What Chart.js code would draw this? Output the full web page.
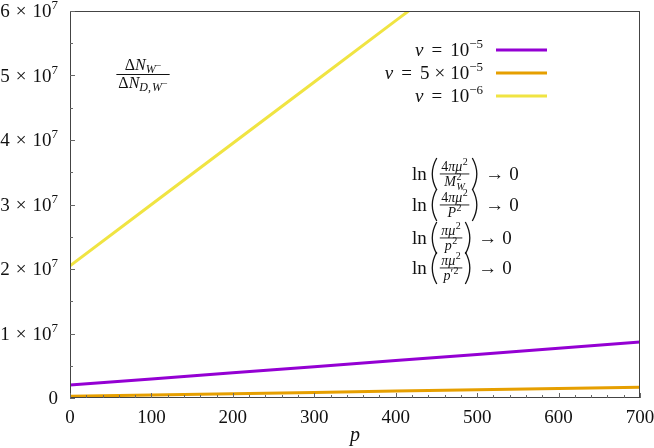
<!DOCTYPE html>
<html>
<head>
<meta charset="utf-8">
<script src="https://cdn.jsdelivr.net/npm/chart.js@4"></script>
<style>
  html, body { margin: 0; background: #fff; }
</style>
</head>
<body>
<canvas id="chart" width="654" height="448"></canvas>
<script>
// values (p from 0 to 700)
const pGrid = [0, 100, 200, 300, 400, 500, 600, 700];
const ratioV1e5 = [2.0e6, 2.95e6, 3.9e6, 4.85e6, 5.8e6, 6.75e6, 7.7e6, 8.7e6];
const ratioV5e5 = [0.27e6, 0.47e6, 0.67e6, 0.87e6, 1.07e6, 1.27e6, 1.47e6, 1.67e6];
const ratioV1e6 = [2.05e7, 3.0e7, 3.95e7, 4.9e7, 5.85e7, 6.8e7];
const yTickMantissa = ['0', '1', '2', '3', '4', '5', '6'];
const yTickExponent = '7';

const colors = ['#9400d3', '#e69f00', '#f0e442'];
const serif = '"Liberation Serif", "DejaVu Serif", serif';
const F = (size, italic) => (italic ? 'italic ' : '') + size + 'px ' + serif;

function toPoints(xs, ys) {
  return ys.map((y, i) => ({ x: xs[i], y: y }));
}

// a run of text pieces: {t, f, dy, gap, stack}
function runWidth(ctx, parts) {
  let w = 0, last = 0;
  parts.forEach(p => {
    ctx.font = p.f;
    const pw = ctx.measureText(p.t).width;
    if (p.stack) { w = w - last + Math.max(last, pw); last = Math.max(last, pw); }
    else { w += (p.gap || 0) + pw; last = pw; }
  });
  return w;
}
function drawRun(ctx, parts, x, y) {
  let cx = x, lastX = x, last = 0;
  parts.forEach(p => {
    ctx.font = p.f;
    const pw = ctx.measureText(p.t).width;
    if (p.stack) {
      ctx.fillText(p.t, lastX, y + (p.dy || 0));
      cx = lastX + Math.max(last, pw);
    } else {
      cx += p.gap || 0;
      ctx.fillText(p.t, cx, y + (p.dy || 0));
      lastX = cx; last = pw; cx += pw;
    }
  });
  return cx - x;
}
function drawFrac(ctx, num, den, x, cy) {
  const wn = runWidth(ctx, num), wd = runWidth(ctx, den);
  const w = Math.max(wn, wd) + 3;
  drawRun(ctx, num, x + (w - wn) / 2, cy - 3);
  drawRun(ctx, den, x + (w - wd) / 2, cy + 12);
  ctx.fillRect(x, cy - 0.5, w, 0.9);
  return w;
}
// thin tall parenthesis occupying [x, x+7]
function paren(ctx, x, cy, open) {
  const h = 16;
  ctx.beginPath();
  if (open) {
    ctx.moveTo(x + 7, cy - h);
    ctx.quadraticCurveTo(x - 2, cy, x + 7, cy + h);
  } else {
    ctx.moveTo(x, cy - h);
    ctx.quadraticCurveTo(x + 9, cy, x, cy + h);
  }
  ctx.stroke();
}

const annotations = {
  id: 'annotations',
  afterDraw(chart) {
    const ctx = chart.ctx;
    const a = chart.chartArea;
    const xs = chart.scales.x, ys = chart.scales.y;
    ctx.save();
    // frame
    ctx.strokeStyle = '#444';
    ctx.lineWidth = 1;
    ctx.strokeRect(a.left + 0.5, a.top + 0.5, a.right - a.left - 1, a.bottom - a.top - 1);
    // inward ticks, majors and minors
    ctx.strokeStyle = '#666';
    ctx.beginPath();
    for (let v = 0; v <= 700; v += 20) {
      const px = Math.round(xs.getPixelForValue(v)) + 0.5;
      const len = v % 100 === 0 ? 5 : 3;
      ctx.moveTo(px, a.bottom); ctx.lineTo(px, a.bottom - len);
    }
    for (let v = 0; v <= 6e7; v += 0.5e7) {
      const py = Math.round(ys.getPixelForValue(v)) + 0.5;
      const len = v % 1e7 === 0 ? 5 : 3;
      ctx.moveTo(a.left, py); ctx.lineTo(a.left + len, py);
    }
    ctx.stroke();

    ctx.fillStyle = '#111';
    ctx.textBaseline = 'alphabetic';
    ctx.textAlign = 'left';

    // y tick labels  m × 10^7
    yTickMantissa.forEach((m, i) => {
      const py = ys.getPixelForValue(i * 1e7);
      const parts = i === 0 ? [{ t: m, f: F(19) }] :
        [{ t: m, f: F(19) }, { t: '×', f: F(19), gap: 6 }, { t: '10', f: F(19), gap: 6 },
         { t: yTickExponent, f: F(13), dy: -8 }];
      const w = runWidth(ctx, parts);
      drawRun(ctx, parts, 58 - w, py + 6);
    });

    // x axis title
    ctx.font = F(20, true);
    ctx.textAlign = 'center';
    ctx.fillText('p', (a.left + a.right) / 2, 441);
    ctx.textAlign = 'left';

    // legend
    const V = { t: 'v', f: F(19, true) };
    const EQ = { t: '=', f: F(19), gap: 8 };
    const legendRows = [
      [V, EQ, { t: '10', f: F(19), gap: 8 }, { t: '−5', f: F(13), dy: -8 }],
      [V, EQ, { t: '5', f: F(19), gap: 8 }, { t: '×', f: F(19), gap: 5 }, { t: '10', f: F(19), gap: 5 }, { t: '−5', f: F(13), dy: -8 }],
      [V, EQ, { t: '10', f: F(19), gap: 8 }, { t: '−6', f: F(13), dy: -8 }]
    ];
    const rowY = [50, 73, 96];
    legendRows.forEach((parts, i) => {
      const w = runWidth(ctx, parts);
      drawRun(ctx, parts, 483 - w, rowY[i] + 6);
      ctx.strokeStyle = colors[i];
      ctx.lineWidth = 3;
      ctx.beginPath();
      ctx.moveTo(496, rowY[i]); ctx.lineTo(547, rowY[i]);
      ctx.stroke();
    });

    // ratio label
    const num = [{ t: 'Δ', f: F(16) }, { t: 'N', f: F(16, true) }, { t: 'W', f: F(12, true), dy: 3 }, { t: '−', f: F(10), dy: -1 }];
    const den = [{ t: 'Δ', f: F(16) }, { t: 'N', f: F(16, true) }, { t: 'D', f: F(12, true), dy: 3 }, { t: ',', f: F(12), dy: 3 }, { t: 'W', f: F(12, true), dy: 3, gap: 1 }, { t: '−', f: F(10), dy: -1 }];
    const fw = Math.max(runWidth(ctx, num), runWidth(ctx, den));
    drawRun(ctx, num, 143 - runWidth(ctx, num) / 2, 70);
    drawRun(ctx, den, 143 - runWidth(ctx, den) / 2, 88);
    ctx.fillRect(143 - fw / 2 - 2, 74, fw + 4, 1);

    // ln(...) -> 0 block
    const sup2 = { t: '2', f: F(10), dy: -6, gap: 0.5 };
    const fracs = [
      [[{ t: '4', f: F(14) }, { t: 'πμ', f: F(14, true) }, sup2],
       [{ t: 'M', f: F(14, true) }, sup2, { t: 'W', f: F(10, true), dy: 4, stack: true }]],
      [[{ t: '4', f: F(14) }, { t: 'πμ', f: F(14, true) }, sup2],
       [{ t: 'P', f: F(14, true) }, sup2]],
      [[{ t: 'πμ', f: F(14, true) }, sup2],
       [{ t: 'p', f: F(14, true) }, sup2]],
      [[{ t: 'πμ', f: F(14, true) }, sup2],
       [{ t: 'p', f: F(14, true) }, { t: '′', f: F(12), dy: -3 }, sup2]]
    ];
    const lnY = [174, 205, 238, 268];
    ctx.strokeStyle = '#111';
    ctx.lineWidth = 1.3;
    fracs.forEach((fr, i) => {
      const cy = lnY[i];
      let x = 412;
      ctx.font = F(19);
      ctx.fillText('ln', x, cy + 6);
      x += ctx.measureText('ln').width + 3;
      paren(ctx, x, cy, true);
      x += 10;
      x += drawFrac(ctx, fr[0], fr[1], x, cy) + 3;
      paren(ctx, x, cy, false);
      x += 13;
      ctx.font = F(19);
      ctx.fillText('→', x, cy + 6);
      x += ctx.measureText('→').width + 5;
      ctx.fillText('0', x, cy + 6);
    });
    ctx.restore();
  }
};

new Chart(document.getElementById('chart'), {
  type: 'line',
  data: {
    datasets: [
      { label: 'v = 10^-5', data: toPoints(pGrid, ratioV1e5), borderColor: colors[0] },
      { label: 'v = 5x10^-5', data: toPoints(pGrid, ratioV5e5), borderColor: colors[1] },
      { label: 'v = 10^-6', data: toPoints(pGrid, ratioV1e6), borderColor: colors[2] }
    ]
  },
  options: {
    responsive: false,
    animation: false,
    elements: { point: { radius: 0 }, line: { borderWidth: 3, tension: 0 } },
    plugins: { legend: { display: false }, tooltip: { enabled: false } },
    layout: { padding: { top: 11, right: 14, left: 0, bottom: 0 } },
    scales: {
      x: {
        type: 'linear', min: 0, max: 700,
        grid: { display: false, drawTicks: false },
        border: { display: false },
        ticks: { stepSize: 100, padding: 9, color: '#111', font: { family: serif, size: 19 } },
        afterFit(scale) { scale.height = 50; scale.paddingLeft = 0; scale.paddingRight = 0; }
      },
      y: {
        min: 0, max: 6e7,
        grid: { display: false, drawTicks: false },
        border: { display: false },
        ticks: { stepSize: 1e7, callback: () => '' },
        afterFit(scale) { scale.width = 70; scale.paddingTop = 0; scale.paddingBottom = 0; }
      }
    }
  },
  plugins: [annotations]
});
</script>
</body>
</html>
